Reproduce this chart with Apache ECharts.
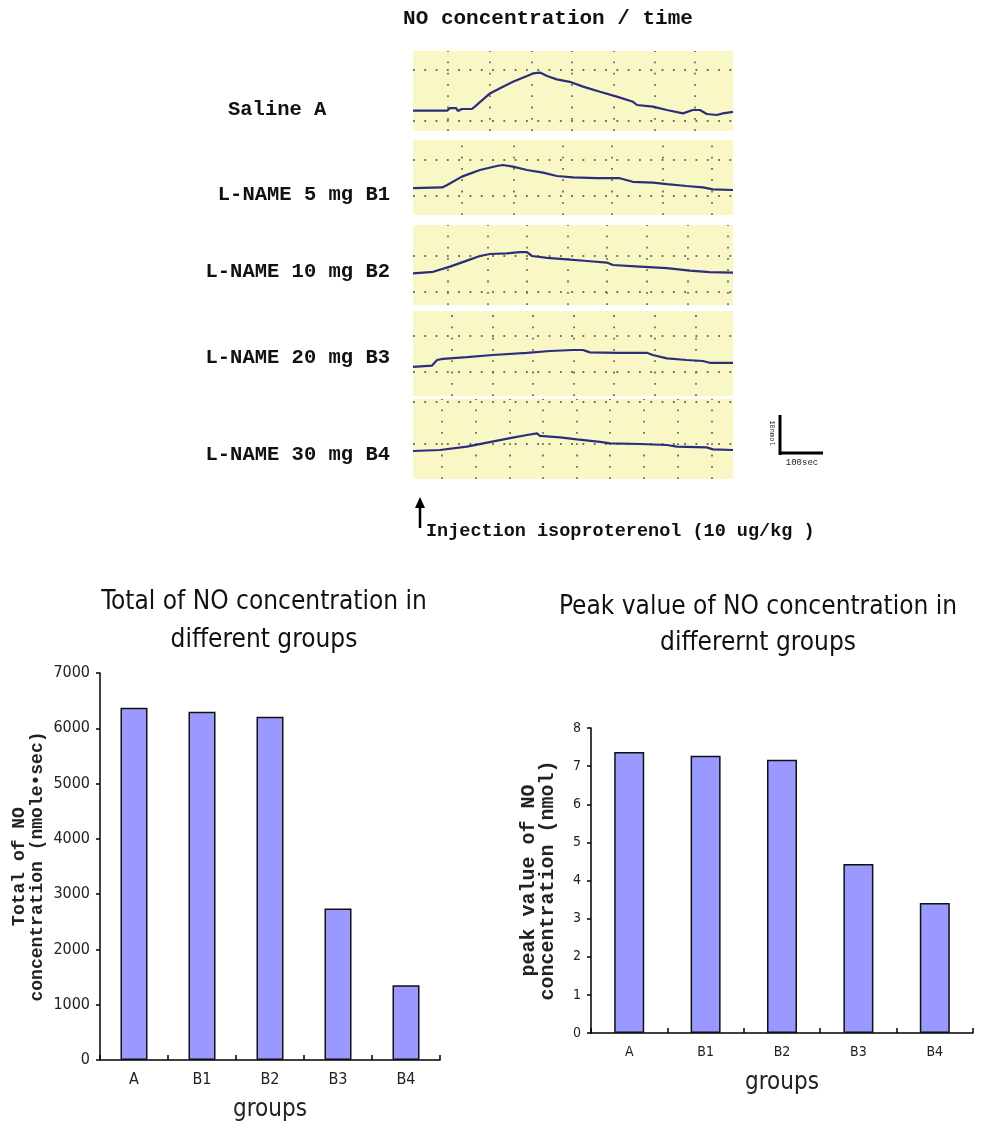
<!DOCTYPE html>
<html>
<head>
<meta charset="utf-8">
<script src="https://cdn.jsdelivr.net/npm/echarts@6/dist/echarts.min.js"></script>
<style>
html,body{margin:0;padding:0;background:#fff;}
#chart{width:981px;height:1123px;}
</style>
</head>
<body>
<div id="chart"></div>
<script>
// ---------- DATA ----------
const groups = ['A', 'B1', 'B2', 'B3', 'B4'];
const totalNO = [6370, 6300, 6210, 2740, 1350];      // nmole*sec
const peakNO = [7.37, 7.27, 7.17, 4.43, 3.41];       // nmol
const totalTicks = [0, 1000, 2000, 3000, 4000, 5000, 6000, 7000];
const peakTicks = [0, 1, 2, 3, 4, 5, 6, 7, 8];

const traceLabels = ['Saline A', 'L-NAME 5 mg B1', 'L-NAME 10 mg B2', 'L-NAME 20 mg B3', 'L-NAME 30 mg B4'];

// time (sec) and NO concentration (nmol, relative to strip bottom)
const timeA = [0, 6, 95, 103, 120, 125, 136, 164, 172, 214, 242, 278, 317, 334, 353, 373, 400, 436, 473, 520, 567, 612, 623, 667, 706, 751, 778, 798, 817, 845, 862, 890];
const concA = [5.1, 5.1, 5.1, 5.7, 5.7, 5.0, 5.5, 5.5, 6.1, 9.4, 10.7, 12.3, 13.75, 14.4, 14.6, 13.75, 12.9, 12.3, 11.1, 9.8, 8.6, 7.3, 6.5, 6.1, 5.25, 4.4, 5.25, 5.25, 4.25, 4.0, 4.4, 4.8];

const timeB1 = [0, 81, 95, 136, 186, 233, 250, 278, 317, 362, 400, 445, 511, 575, 611, 667, 706, 761, 806, 834, 890];
const concB1 = [6.7, 6.9, 7.5, 9.6, 11.25, 12.25, 12.5, 12.1, 11.25, 10.6, 9.75, 9.4, 9.2, 9.2, 8.3, 8.1, 7.7, 7.25, 6.9, 6.4, 6.25];

const timeB2 = [0, 56, 103, 150, 186, 214, 261, 297, 317, 331, 373, 428, 484, 539, 556, 631, 706, 770, 825, 890];
const concB2 = [7.9, 8.3, 9.6, 11.1, 12.25, 12.75, 12.9, 13.2, 13.2, 12.25, 11.8, 11.4, 11.0, 10.6, 10.0, 9.6, 9.2, 8.6, 8.2, 8.1];

const timeB3 = [0, 53, 67, 83, 150, 222, 317, 381, 445, 473, 492, 567, 650, 667, 706, 761, 806, 825, 890];
const concB3 = [7.3, 7.6, 9.0, 9.3, 9.7, 10.25, 10.8, 11.25, 11.5, 11.5, 10.9, 10.8, 10.8, 10.25, 9.4, 9.0, 8.75, 8.3, 8.3];

const timeB4 = [0, 75, 150, 206, 270, 317, 345, 353, 409, 456, 520, 548, 631, 706, 734, 817, 834, 890];
const concB4 = [7.0, 7.25, 8.1, 9.1, 10.2, 11.0, 11.4, 10.8, 10.4, 9.9, 9.3, 8.9, 8.75, 8.5, 8.1, 7.9, 7.4, 7.25];

// recorder chart-paper grid (time, sec / conc, nmol)
const paperTimesA = [98, 214, 330, 441, 557, 673, 784];
const paperRowsA = [2.5, 15.4];
const paperTimesB1 = [135, 279, 416, 552, 696, 832];
const paperRowsB1 = [4.8, 13.9];
const paperTimesB2 = [98, 207, 316, 430, 540, 650, 763, 876];
const paperRowsB2 = [3.2, 12.3];
const paperTimesB3 = [108, 222, 334, 446, 557, 673, 787];
const paperRowsB3 = [6.1, 15.1];
const paperTimesB4 = [80, 175, 270, 362, 455, 548, 643, 736, 830];
const paperRowsB4 = [8.7, 19.3];

// ---------- LAYOUT ----------
const strips = [
  {t: timeA, c: concA, pt: paperTimesA, pr: paperRowsA, top: 51, h: 80},
  {t: timeB1, c: concB1, pt: paperTimesB1, pr: paperRowsB1, top: 140, h: 75},
  {t: timeB2, c: concB2, pt: paperTimesB2, pr: paperRowsB2, top: 225, h: 80},
  {t: timeB3, c: concB3, pt: paperTimesB3, pr: paperRowsB3, top: 311, h: 85},
  {t: timeB4, c: concB4, pt: paperTimesB4, pr: paperRowsB4, top: 399, h: 80}
];
const labelY = [110, 195, 272, 358, 455];

const MONO = '"Liberation Mono", "DejaVu Sans Mono", monospace';
const NARROW = '"Liberation Sans Narrow", "DejaVu Sans Condensed", "Liberation Sans", sans-serif';

const grids = [], xAxes = [], yAxes = [], series = [];
strips.forEach((s, i) => {
  grids.push({left: 413, width: 320, top: s.top, height: s.h, show: true, backgroundColor: '#f9f7c6', borderWidth: 0});
  xAxes.push({type: 'value', gridIndex: i, min: 0, max: 890, show: false});
  yAxes.push({type: 'value', gridIndex: i, min: 0, max: s.h / 4, show: false});
  series.push({
    type: 'line', xAxisIndex: i, yAxisIndex: i,
    data: s.t.map((t, k) => [t, s.c[k]]),
    showSymbol: false, symbol: 'none', silent: true,
    lineStyle: {color: '#2d2d7c', width: 2.2},
    z: 5,
    markLine: {
      silent: true, symbol: ['none', 'none'], label: {show: false},
      lineStyle: {color: '#6e6e58', width: 1.8, type: [1.8, 9.5]},
      data: s.pt.map(v => ({xAxis: v})).concat(s.pr.map(v => ({yAxis: v}))),
      z: 2
    }
  });
});

// bar charts
grids.push({left: 100, right: 541, top: 673, bottom: 62});
grids.push({left: 591, right: 8, top: 728, bottom: 90});

function barX(gi, fs, nameGap) {
  return {
    type: 'category', gridIndex: gi, data: groups,
    axisLine: {lineStyle: {color: '#000', width: 1.5}},
    axisTick: {show: true, inside: true, length: 5, lineStyle: {color: '#000', width: 1.5}},
    axisLabel: {color: '#222', fontFamily: NARROW, fontSize: fs, margin: 12},
    name: 'groups', nameLocation: 'middle', nameGap: nameGap,
    nameTextStyle: {color: '#222', fontFamily: NARROW, fontSize: 24}
  };
}
function barY(gi, max, interval, fs, name, nameFs, lh, nameGap) {
  return {
    type: 'value', gridIndex: gi, min: 0, max: max, interval: interval,
    axisLine: {show: true, lineStyle: {color: '#000', width: 1.5}},
    axisTick: {show: true, length: 4, lineStyle: {color: '#000', width: 1.5}},
    splitLine: {show: false},
    axisLabel: {color: '#222', fontFamily: NARROW, fontSize: fs, margin: 10, formatter: v => String(v)},
    name: name, nameLocation: 'middle', nameRotate: 90, nameGap: nameGap,
    nameTextStyle: {color: '#222', fontFamily: MONO, fontWeight: 'bold', fontSize: nameFs, lineHeight: lh}
  };
}
xAxes.push(barX(5, 16, 38));
yAxes.push(barY(5, totalTicks[totalTicks.length - 1], totalTicks[1] - totalTicks[0], 16, 'Total of NO\nconcentration (nmole•sec)', 18, 18, 54));
xAxes.push(barX(6, 14, 38));
yAxes.push(barY(6, peakTicks[peakTicks.length - 1], peakTicks[1] - peakTicks[0], 14, 'peak value of NO\nconcentration (nmol)', 20, 19, 34));

series.push({
  type: 'bar', xAxisIndex: 5, yAxisIndex: 5, data: totalNO, barWidth: 27,
  itemStyle: {color: '#9999ff', borderColor: '#111', borderWidth: 1.5}
});
series.push({
  type: 'bar', xAxisIndex: 6, yAxisIndex: 6, data: peakNO, barWidth: 30,
  itemStyle: {color: '#9999ff', borderColor: '#111', borderWidth: 1.5}
});

// ---------- TEXT & DECORATION ----------
const graphic = [];
graphic.push({type: 'text', style: {text: 'NO concentration / time', x: 548, y: 19, font: 'bold 21px ' + MONO, fill: '#111', textAlign: 'center', textVerticalAlign: 'middle'}});
traceLabels.forEach((t, i) => {
  if (i === 0) {
    graphic.push({type: 'text', style: {text: t, x: 228, y: labelY[i], font: 'bold 20.5px ' + MONO, fill: '#111', textAlign: 'left', textVerticalAlign: 'middle'}});
  } else {
    graphic.push({type: 'text', style: {text: t, x: 390, y: labelY[i], font: 'bold 20.5px ' + MONO, fill: '#111', textAlign: 'right', textVerticalAlign: 'middle'}});
  }
});
// injection arrow
graphic.push({type: 'line', shape: {x1: 420, y1: 528, x2: 420, y2: 505}, style: {stroke: '#000', lineWidth: 2.5}});
graphic.push({type: 'polygon', shape: {points: [[420, 497], [415, 508], [425, 508]]}, style: {fill: '#000'}});
graphic.push({type: 'text', style: {text: 'Injection isoproterenol (10 ug/kg )', x: 426, y: 531, font: 'bold 18.5px ' + MONO, fill: '#111', textAlign: 'left', textVerticalAlign: 'middle'}});
// scale bar
graphic.push({type: 'line', shape: {x1: 780, y1: 415, x2: 780, y2: 455}, style: {stroke: '#000', lineWidth: 3}});
graphic.push({type: 'line', shape: {x1: 780, y1: 453, x2: 823, y2: 453}, style: {stroke: '#000', lineWidth: 3}});
graphic.push({type: 'text', rotation: -Math.PI / 2, x: 772, y: 433, style: {text: '10nmol', x: 0, y: 0, font: '7px ' + MONO, fill: '#222', textAlign: 'center', textVerticalAlign: 'middle'}});
graphic.push({type: 'text', style: {text: '100sec', x: 802, y: 463, font: '9px ' + MONO, fill: '#222', textAlign: 'center', textVerticalAlign: 'middle'}});
// bar chart titles
graphic.push({type: 'text', style: {text: 'Total of NO concentration in\ndifferent groups', x: 264, y: 621, font: '26px ' + NARROW, lineHeight: 38, fill: '#111', textAlign: 'center', textVerticalAlign: 'middle'}});
graphic.push({type: 'text', style: {text: 'Peak value of NO concentration in\ndifferernt groups', x: 758, y: 625, font: '26px ' + NARROW, lineHeight: 36, fill: '#111', textAlign: 'center', textVerticalAlign: 'middle'}});

const chart = echarts.init(document.getElementById('chart'), null, {renderer: 'canvas'});
chart.setOption({
  animation: false,
  backgroundColor: '#fff',
  grid: grids,
  xAxis: xAxes,
  yAxis: yAxes,
  series: series,
  graphic: graphic
});
</script>
</body>
</html>
